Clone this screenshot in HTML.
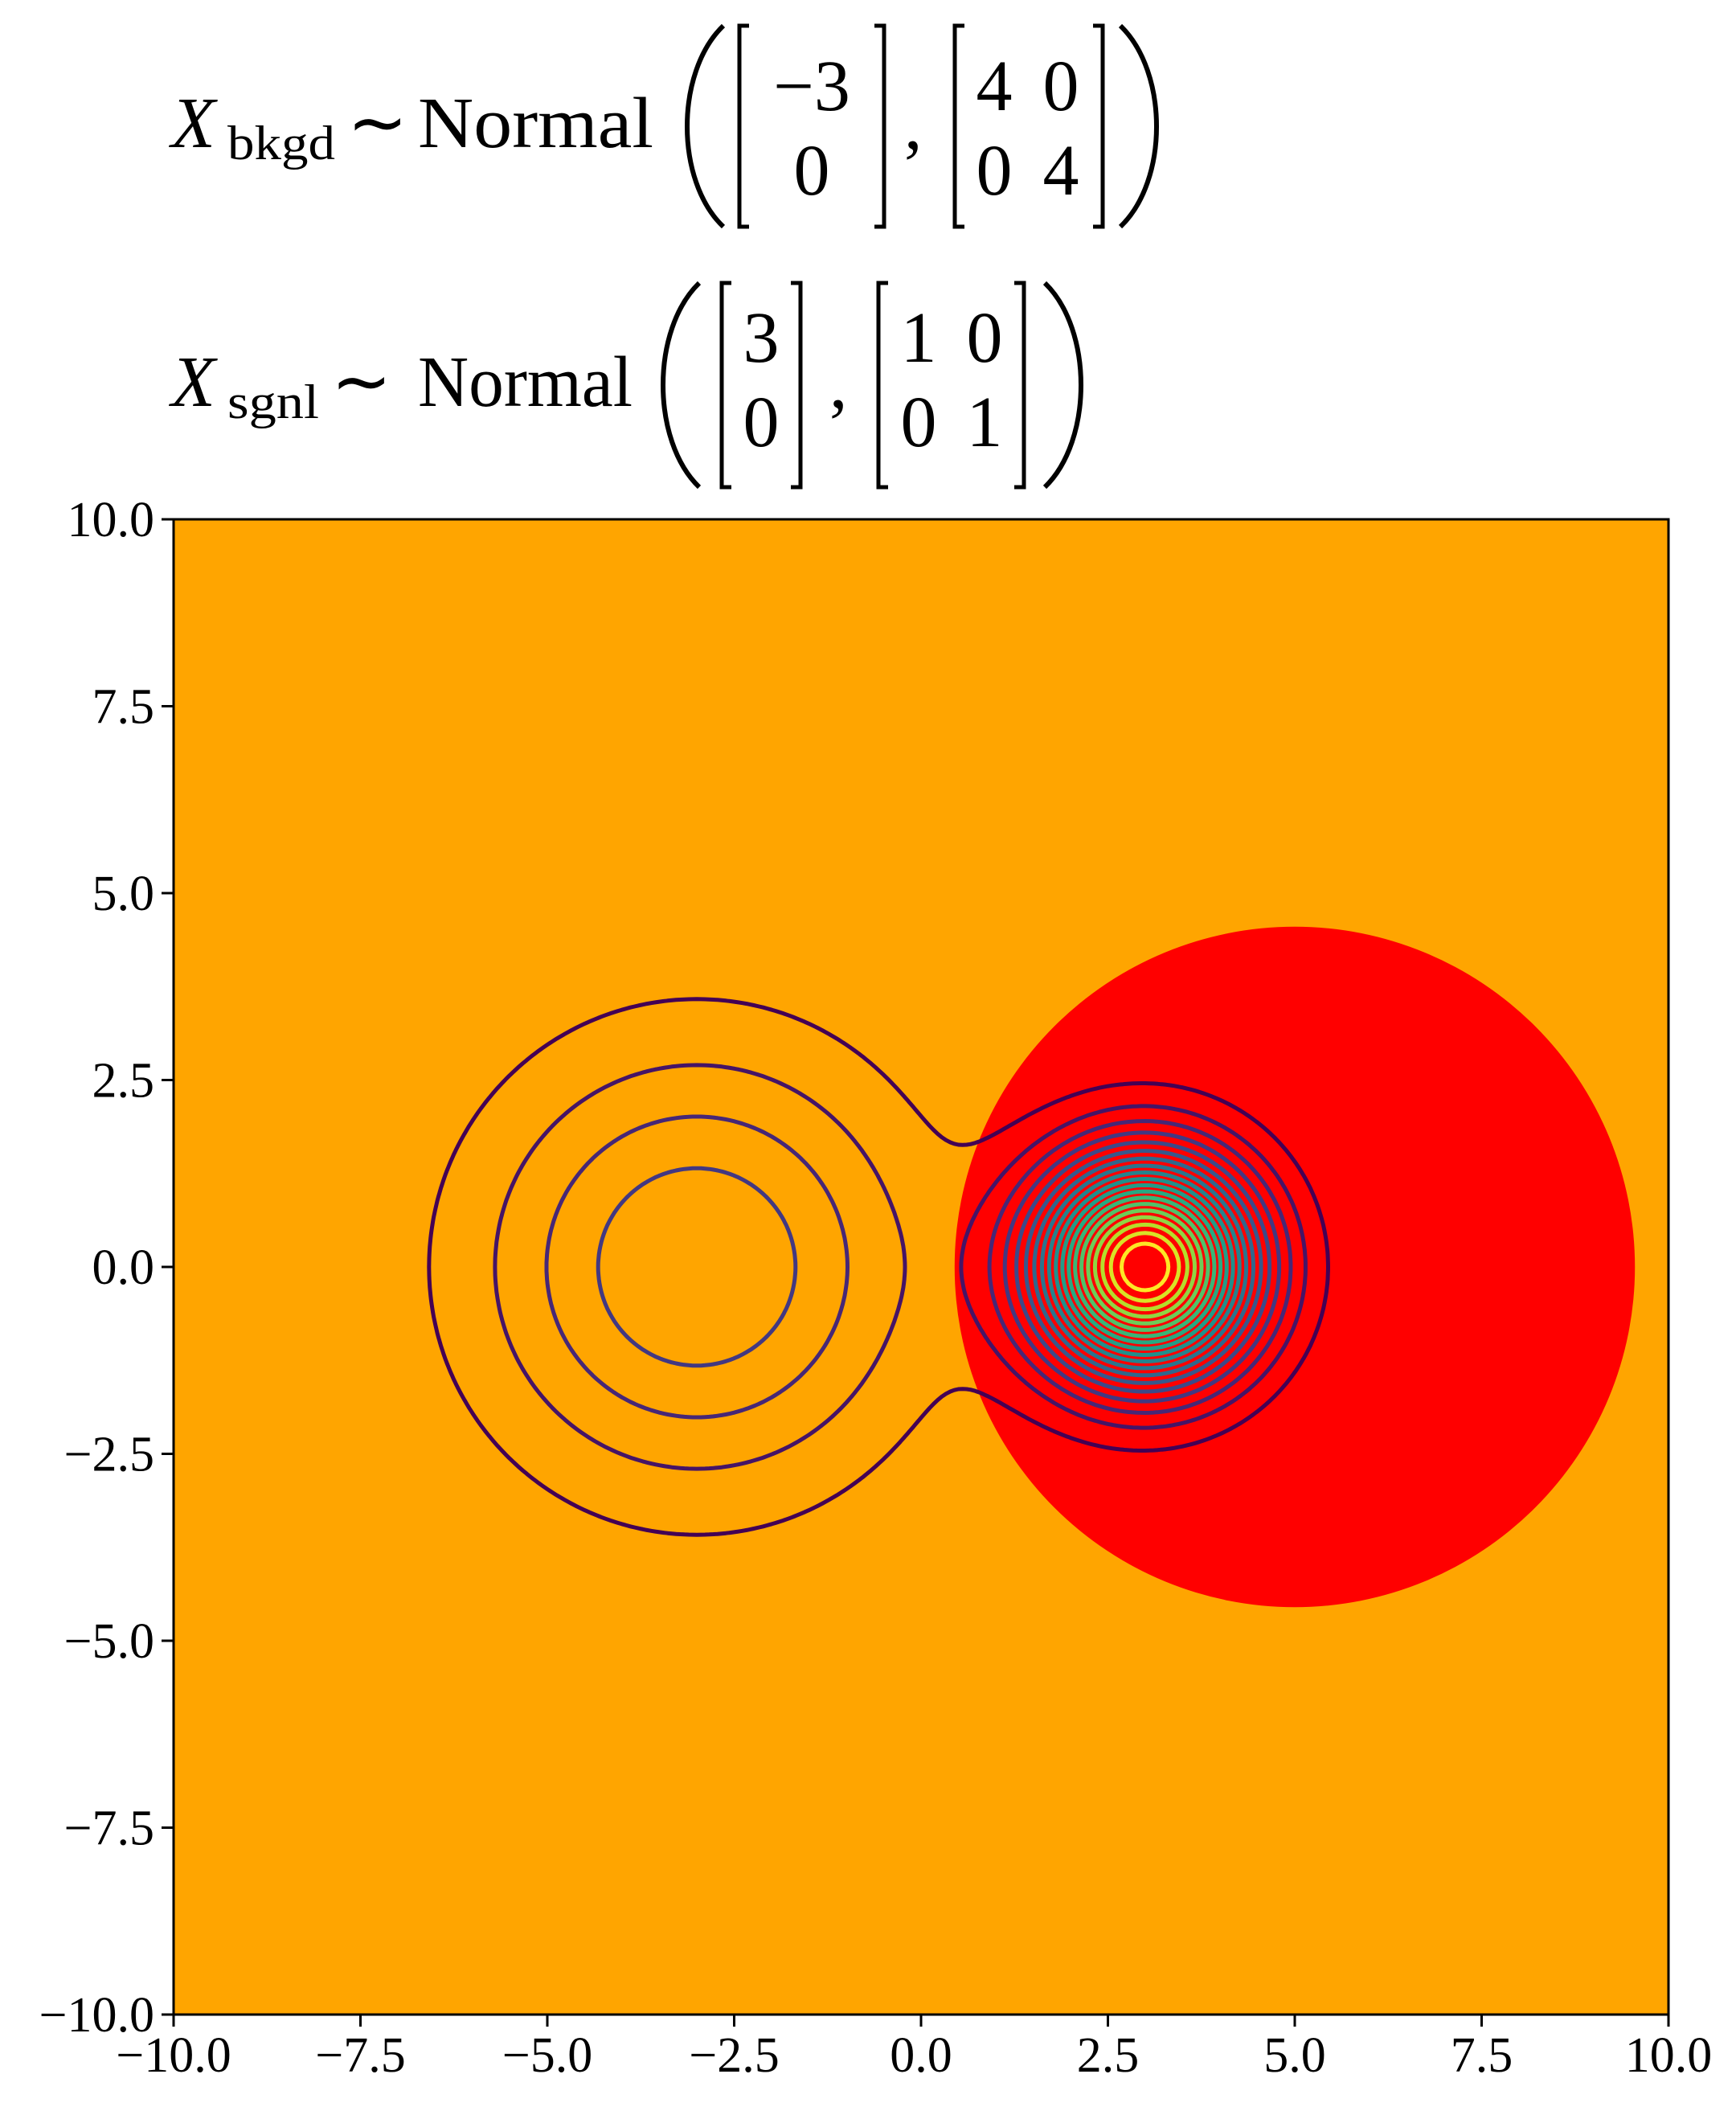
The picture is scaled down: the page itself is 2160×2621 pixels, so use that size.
<!DOCTYPE html>
<html><head><meta charset="utf-8"><style>
html,body{margin:0;padding:0;background:#fff;width:2160px;height:2621px;overflow:hidden}
svg{position:absolute;left:0;top:0}
text{font-family:"Liberation Serif",serif;fill:#000}
</style></head><body>
<svg id="chartsvg" width="2160" height="2621">
<g font-size="90">
  <g>
    <text x="213" y="183" font-style="italic">X</text>
    <text x="283" y="198" font-size="60" textLength="134" lengthAdjust="spacingAndGlyphs">bkgd</text>
    <text x="432" y="183">∼</text>
    <text x="520" y="183" textLength="293" lengthAdjust="spacingAndGlyphs">Normal</text>
    <path d="M900,32 C840,90 840,225 900,282" stroke="#000" stroke-width="6" fill="none"/>
    <path d="M932,32 h-12 v250 h12 M1088,32 h12 v250 h-12" stroke="#000" stroke-width="5" fill="none"/>
    <text x="1010" y="137" text-anchor="middle">−3</text>
    <text x="1010" y="242" text-anchor="middle">0</text>
    <text x="1125" y="185">,</text>
    <path d="M1200,32 h-12 v250 h12 M1360,32 h12 v250 h-12" stroke="#000" stroke-width="5" fill="none"/>
    <text x="1237" y="137" text-anchor="middle">4</text><text x="1320" y="137" text-anchor="middle">0</text>
    <text x="1237" y="242" text-anchor="middle">0</text><text x="1320" y="242" text-anchor="middle">4</text>
    <path d="M1394,32 C1454,90 1454,225 1394,282" stroke="#000" stroke-width="6" fill="none"/>
  </g>
  <g>
    <text x="213" y="505" font-style="italic">X</text>
    <text x="283" y="520" font-size="60" textLength="114" lengthAdjust="spacingAndGlyphs">sgnl</text>
    <text x="412" y="505">∼</text>
    <text x="520" y="505" textLength="267" lengthAdjust="spacingAndGlyphs">Normal</text>
    <path d="M870,352 C810,410 810,548 870,606" stroke="#000" stroke-width="6" fill="none"/>
    <path d="M910,352 h-12 v254 h12 M984,352 h12 v254 h-12" stroke="#000" stroke-width="5" fill="none"/>
    <text x="947" y="450" text-anchor="middle">3</text>
    <text x="947" y="555" text-anchor="middle">0</text>
    <text x="1032" y="507">,</text>
    <path d="M1105,352 h-12 v254 h12 M1262,352 h12 v254 h-12" stroke="#000" stroke-width="5" fill="none"/>
    <text x="1143" y="450" text-anchor="middle">1</text><text x="1225" y="450" text-anchor="middle">0</text>
    <text x="1143" y="555" text-anchor="middle">0</text><text x="1225" y="555" text-anchor="middle">1</text>
    <path d="M1300,352 C1360,410 1360,548 1300,606" stroke="#000" stroke-width="6" fill="none"/>
  </g>
</g>
<defs><clipPath id="plotclip"><rect x="216" y="646" width="1860" height="1860"/></clipPath></defs>
<rect x="216" y="646" width="1860" height="1860" fill="#FFA500"/>
<g id="marksgroup" clip-path="url(#plotclip)"></g>
<rect x="216" y="646" width="1860" height="1860" fill="none" stroke="#000" stroke-width="3"/>
<g id="axesgroup"></g>
</svg>
<script>
var bkgdMean = [-3, 0];
var bkgdVar = [4, 4];
var sgnlMean = [3, 0];
var sgnlVar = [1, 1];
var contourLevels = [0.008,0.016,0.024,0.032,0.040,0.048,0.056,0.064,0.072,0.080,0.088,0.096,0.104,0.112,0.120,0.128,0.136,0.144,0.152];
var decisionThreshold = -0.38;
var xTicks = [-10,-7.5,-5,-2.5,0,2.5,5,7.5,10];
var yTicks = [-10,-7.5,-5,-2.5,0,2.5,5,7.5,10];
var xTickLabels = ["−10.0","−7.5","−5.0","−2.5","0.0","2.5","5.0","7.5","10.0"];
var yTickLabels = ["−10.0","−7.5","−5.0","−2.5","0.0","2.5","5.0","7.5","10.0"];

(function(){
var PL=216,PT=646,PW=1860,PH=1860,xmin=-10,xmax=10,ymin=-10,ymax=10;
function sx(v){return PL+(v-xmin)/(xmax-xmin)*PW;}
function sy(v){return PT+(ymax-v)/(ymax-ymin)*PH;}
var SVGNS='http://www.w3.org/2000/svg';
var marksG=document.getElementById('marksgroup'), axesG=document.getElementById('axesgroup');

function pdf(x,y,m,v){return Math.exp(-(x-m[0])*(x-m[0])/(2*v[0])-(y-m[1])*(y-m[1])/(2*v[1]))/(2*Math.PI*Math.sqrt(v[0]*v[1]));}
function dens(x,y){return pdf(x,y,bkgdMean,bkgdVar)+pdf(x,y,sgnlMean,sgnlVar);}

var ka=1/(2*sgnlVar[0]), kb=1/(2*bkgdVar[0]);
var ccx=(ka*sgnlMean[0]-kb*bkgdMean[0])/(ka-kb), ccy=(ka*sgnlMean[1]-kb*bkgdMean[1])/(ka-kb);
var c0=-ka*(sgnlMean[0]*sgnlMean[0]+sgnlMean[1]*sgnlMean[1])+kb*(bkgdMean[0]*bkgdMean[0]+bkgdMean[1]*bkgdMean[1])+Math.log(Math.sqrt(bkgdVar[0]*bkgdVar[1])/Math.sqrt(sgnlVar[0]*sgnlVar[1]));
var rr=Math.sqrt(Math.max(0,ccx*ccx+ccy*ccy+(c0-decisionThreshold)/(ka-kb)));
var disk=document.createElementNS(SVGNS,'circle');
disk.setAttribute('cx',sx(ccx));disk.setAttribute('cy',sy(ccy));disk.setAttribute('r',rr*PW/(xmax-xmin));
disk.setAttribute('fill','#FF0000');


marksG.appendChild(disk);

var vir=[[68,1,84],[72,35,116],[64,67,135],[52,94,141],[41,120,142],[32,144,140],[34,167,132],[68,190,112],[121,209,81],[189,222,38],[253,231,37]];
function viridis(t){t=Math.max(0,Math.min(1,t))*10;var i=Math.min(9,Math.floor(t)),f=t-i;var c=vir[i].map(function(v,k){return Math.round(v+(vir[i+1][k]-v)*f);});return 'rgb('+c.join(',')+')';}

var NG=360, gx=[],G=[];
for(var i=0;i<=NG;i++)gx.push(xmin+(xmax-xmin)*i/NG);
for(var j=0;j<=NG;j++){G.push([]);for(var i2=0;i2<=NG;i2++)G[j].push(dens(gx[i2],gx[j]));}
var lmin=contourLevels[0],lmax=contourLevels[contourLevels.length-1];
contourLevels.forEach(function(lv,k){
  var d=[];
  for(var j=0;j<NG;j++)for(var i=0;i<NG;i++){
    var v=[G[j][i],G[j][i+1],G[j+1][i+1],G[j+1][i]];
    var p=[[gx[i],gx[j]],[gx[i+1],gx[j]],[gx[i+1],gx[j+1]],[gx[i],gx[j+1]]];
    var pts=[];
    for(var e=0;e<4;e++){var A=v[e],B=v[(e+1)%4];
      if((A<lv)!==(B<lv)){var t=(lv-A)/(B-A);var P=p[e],Q=p[(e+1)%4];pts.push([P[0]+(Q[0]-P[0])*t,P[1]+(Q[1]-P[1])*t]);}}
    for(var q=0;q+1<pts.length;q+=2)d.push('M'+sx(pts[q][0]).toFixed(1)+','+sy(pts[q][1]).toFixed(1)+'L'+sx(pts[q+1][0]).toFixed(1)+','+sy(pts[q+1][1]).toFixed(1));
  }
  var path=document.createElementNS(SVGNS,'path');
  path.setAttribute('d',d.join(''));path.setAttribute('fill','none');
  path.setAttribute('stroke',viridis((lv-lmin)/(lmax-lmin)));
  path.setAttribute('stroke-width','5');path.setAttribute('stroke-linecap','round');
  
  
  marksG.appendChild(path);
});

xTicks.forEach(function(v,k){
  var ln=document.createElementNS(SVGNS,'line');
  ln.setAttribute('x1',sx(v));ln.setAttribute('x2',sx(v));ln.setAttribute('y1',PT+PH);ln.setAttribute('y2',PT+PH+15);
  ln.setAttribute('stroke','#000');ln.setAttribute('stroke-width','3');
  
  
  axesG.appendChild(ln);
  var tx=document.createElementNS(SVGNS,'text');
  tx.setAttribute('x',sx(v));tx.setAttribute('y',2577);tx.setAttribute('text-anchor','middle');tx.setAttribute('font-size','62');
  tx.textContent=xTickLabels[k];
  
  
  axesG.appendChild(tx);
});
yTicks.forEach(function(v,k){
  var ln=document.createElementNS(SVGNS,'line');
  ln.setAttribute('y1',sy(v));ln.setAttribute('y2',sy(v));ln.setAttribute('x1',PL-15);ln.setAttribute('x2',PL);
  ln.setAttribute('stroke','#000');ln.setAttribute('stroke-width','3');
  
  
  axesG.appendChild(ln);
  var tx=document.createElementNS(SVGNS,'text');
  tx.setAttribute('x',PL-24);tx.setAttribute('y',sy(v)+21);tx.setAttribute('text-anchor','end');tx.setAttribute('font-size','62');
  tx.textContent=yTickLabels[k];
  
  
  axesG.appendChild(tx);
});
})();
</script>
</body></html>
